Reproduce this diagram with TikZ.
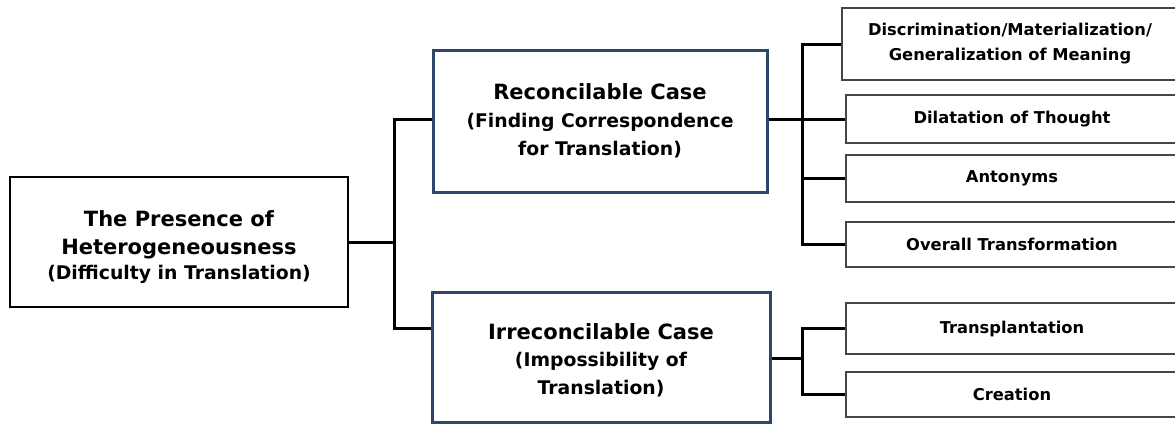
\documentclass[tikz,border=0pt]{standalone}
\usepackage{fontspec}
\setmainfont{DejaVu Sans}
\definecolor{boxblue}{RGB}{44,70,108}
\definecolor{leafgray}{RGB}{70,70,70}
\newcommand\titlefnt{\fontsize{21}{28}\selectfont\bfseries}
\newcommand\subfnt{\fontsize{18.8}{28}\selectfont\bfseries}
\newcommand\leaffnt{\fontsize{16.3}{25}\selectfont\bfseries}
\tikzset{
  conn/.style={line width=3pt, black},
  rootbox/.style={draw=black, line width=2.5pt, fill=white, align=center, inner sep=0pt, font=\titlefnt},
  mainbox/.style={draw=boxblue, line width=3pt, fill=white, align=center, inner sep=0pt, font=\titlefnt},
  leafbox/.style={draw=leafgray, line width=1.5pt, fill=white, align=center, inner sep=0pt, font=\leaffnt},
}
\begin{document}
\begin{tikzpicture}[x=1pt,y=-1pt]
\useasboundingbox (0,0) rectangle (1175,423);
\clip (0,0) rectangle (1175,423);
% main boxes
\node[rootbox, minimum width=338pt, minimum height=130pt] (root) at (179,242)
  {\rule{0pt}{26pt}The Presence of\\ Heterogeneousness\\[-3pt] \subfnt (Difficulty in Translation)};
\node[mainbox, minimum width=334pt, minimum height=142pt] (rec) at (600,121)
  {Reconcilable Case\\ \subfnt (Finding Correspondence\\ \subfnt for Translation)};
\node[mainbox, minimum width=338pt, minimum height=130pt] (irr) at (601,357)
  {\rule{0pt}{22pt}Irreconcilable Case\\[-1pt] \subfnt (Impossibility of\\ \subfnt Translation)};
% leaf boxes
\node[leafbox, minimum width=336pt, minimum height=72pt] (l1) at (1010,44)
  {Discrimination/Materialization/\\ Generalization of Meaning};
\node[leafbox, minimum width=332pt, minimum height=48pt] (l2) at (1012,119) {Dilatation of Thought};
\node[leafbox, minimum width=332pt, minimum height=47pt] (l3) at (1012,178.5) {Antonyms};
\node[leafbox, minimum width=332pt, minimum height=45pt] (l4) at (1012,244.5) {Overall Transformation};
\node[leafbox, minimum width=332pt, minimum height=51pt] (l5) at (1012,328.5) {Transplantation};
\node[leafbox, minimum width=332pt, minimum height=45pt] (l6) at (1012,394.5) {Creation};
% junction coordinates
\coordinate (j1top) at (394,119);
\coordinate (j1bot) at (394,328);
\coordinate (j2) at (802,119);
\coordinate (j3) at (802,358);
% connectors
\draw[conn] (root.east) -- (root.east -| j1top);
\draw[conn] (rec.west |- j1top) -- (j1top) -- (j1bot) -- (irr.west |- j1bot);
\draw[conn] (rec.east |- j2) -- (j2);
\draw[conn] (l1.west) -- (l1.west -| j2) -- (l4.west -| j2) -- (l4.west);
\draw[conn] (l2.west) -- (l2.west -| j2);
\draw[conn] (l3.west) -- (l3.west -| j2);
\draw[conn] (irr.east |- j3) -- (j3);
\draw[conn] (l5.west) -- (l5.west -| j3) -- (l6.west -| j3) -- (l6.west);
\end{tikzpicture}
\end{document}
